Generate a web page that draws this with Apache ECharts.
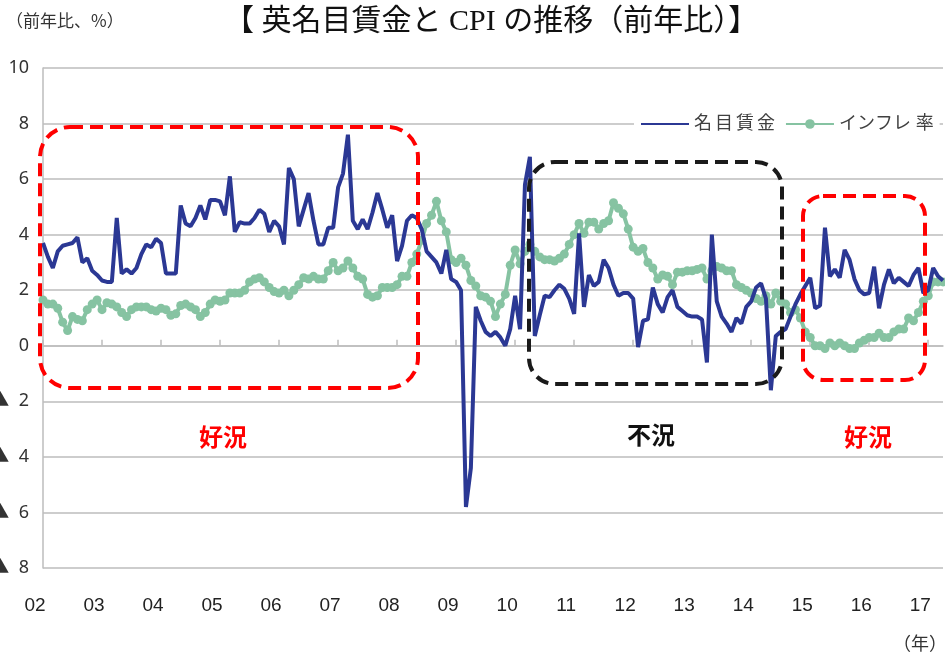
<!DOCTYPE html>
<html lang="ja">
<head>
    <meta charset="UTF-8">
    <title>英名目賃金とCPIの推移</title>
    <script src="https://cdn.jsdelivr.net/npm/echarts@6/dist/echarts.min.js"></script>
</head>
<body style="margin:0;background:#fff">
<div id="main" style="width:945px;height:662px;"></div>
<script type="text/javascript">
    // 年ラベル（2002年1月〜2017年4月、月次）
    var years = ['02', '03', '04', '05', '06', '07', '08', '09', '10', '11', '12', '13', '14', '15', '16', '17'];
    var lastYearMonths = 4;

    // 名目賃金（前年比、%）
    var wage = [
        3.7, 3.2, 2.8, 3.4, 3.6, 3.65, 3.7, 3.9, 3.0, 3.15, 2.7, 2.55,
        2.35, 2.3, 2.3, 4.6, 2.6, 2.75, 2.6, 2.8, 3.3, 3.65, 3.55, 3.85,
        3.7, 2.6, 2.6, 2.6, 5.05, 4.4, 4.3, 4.6, 5.05, 4.55, 5.25, 5.25,
        5.2, 4.7, 6.1, 4.1, 4.45, 4.4, 4.4, 4.6, 4.9, 4.75, 4.1, 4.5,
        4.3, 3.65, 6.4, 6.0, 4.3, 4.9, 5.5, 4.5, 3.65, 3.65, 4.25, 4.25,
        5.7, 6.2, 7.6, 4.5, 4.2, 4.55, 4.2, 4.8, 5.5, 4.9, 4.25, 4.7,
        3.05, 3.6, 4.5, 4.7, 4.6, 4.2, 3.4, 3.2, 3.0, 2.6, 3.45, 2.4,
        2.3, 2.0, -5.8, -4.4, 1.4, 0.9, 0.5, 0.35, 0.5, 0.3, 0.0, 0.6,
        1.8, 0.6, 5.8, 6.8, 0.35, 1.1, 1.8, 1.75, 2.0, 2.2, 2.05, 1.7,
        1.15, 4.05, 1.4, 2.55, 2.15, 2.3, 3.1, 2.8, 2.2, 1.8, 1.9, 1.9,
        1.7, -0.05, 0.9, 0.95, 2.1, 1.5, 1.2, 1.75, 2.0, 1.4, 1.25, 1.1,
        1.05, 1.05, 0.95, -0.6, 4.0, 1.6, 1.05, 0.8, 0.5, 1.0, 0.8, 1.4,
        1.6, 2.1, 2.25, 1.7, -1.6, 0.35, 0.5, 0.6, 1.05, 1.5, 1.85, 2.15,
        2.45, 1.35, 1.45, 4.25, 2.5, 2.75, 2.45, 3.45, 3.1, 2.4, 2.0, 1.85,
        1.9, 2.85, 1.35, 2.2, 2.75, 2.25, 2.45, 2.3, 2.15, 2.55, 2.8, 1.9,
        2.0, 2.8, 2.5, 2.35
    ];

    // インフレ率（CPI、前年比、%）
    var cpi = [
        1.65, 1.5, 1.5, 1.35, 0.85, 0.55, 1.05, 0.95, 0.9, 1.3, 1.5, 1.65,
        1.3, 1.55, 1.5, 1.4, 1.2, 1.05, 1.3, 1.4, 1.4, 1.4, 1.3, 1.25,
        1.35, 1.3, 1.1, 1.15, 1.45, 1.5, 1.4, 1.3, 1.05, 1.2, 1.5, 1.65,
        1.6, 1.65, 1.9, 1.9, 1.9, 2.0, 2.3, 2.4, 2.45, 2.3, 2.1, 1.95,
        1.9, 2.0, 1.8, 2.0, 2.2, 2.45, 2.4, 2.5, 2.4, 2.4, 2.7, 3.0,
        2.7, 2.8, 3.05, 2.8, 2.5, 2.4, 1.85, 1.75, 1.8, 2.1, 2.1, 2.1,
        2.2, 2.5, 2.5, 3.0, 3.3, 3.8, 4.4, 4.7, 5.2, 4.5, 4.1, 3.1,
        3.0, 3.15, 2.9, 2.35, 2.15, 1.8, 1.75, 1.6, 1.05, 1.5, 1.85, 2.9,
        3.45, 2.95, 3.4, 3.65, 3.4, 3.2, 3.1, 3.1, 3.05, 3.15, 3.3, 3.65,
        4.0, 4.4, 4.05, 4.45, 4.45, 4.2, 4.4, 4.5, 5.15, 4.95, 4.75, 4.2,
        3.55, 3.4, 3.5, 3.0, 2.8, 2.4, 2.55, 2.5, 2.2, 2.65, 2.65, 2.7,
        2.7, 2.75, 2.8, 2.4, 2.7, 2.85, 2.8, 2.7, 2.7, 2.2, 2.1, 2.0,
        1.9, 1.7, 1.6, 1.8, 1.5, 1.9, 1.6, 1.5, 1.2, 1.3, 1.0, 0.5,
        0.3, 0.0, 0.0, -0.1, 0.1, 0.0, 0.1, 0.0, -0.1, -0.1, 0.1, 0.2,
        0.3, 0.3, 0.45, 0.3, 0.3, 0.5, 0.6, 0.6, 1.0, 0.9, 1.2, 1.6,
        1.8, 2.3, 2.3, 2.3
    ];

    // 月次カテゴリ（年の先頭月だけ年ラベルを出す）
    var months = [];
    for (var y = 0; y < years.length; y++) {
        var n = (y === years.length - 1) ? lastYearMonths : 12;
        for (var m = 1; m <= n; m++) {
            months.push(years[y] + '/' + m);
        }
    }

    var myChart = echarts.init(document.getElementById('main'));

    var labelFont = '"Noto Sans", "Noto Sans CJK JP", sans-serif';
    var gridGray = '#bdbdbd';

    // 囲み枠（点線の角丸四角）
    function box(x, y, w, h, r, color) {
        return {
            type: 'rect',
            shape: {x: x, y: y, width: w, height: h, r: r},
            style: {fill: 'none', stroke: color, lineWidth: 4, lineDash: [13, 7]},
            z: 100
        };
    }

    function note(x, y, text, color) {
        return {
            type: 'text',
            x: x, y: y,
            style: {
                text: text, fill: color, font: 'bold 24px "Noto Sans CJK JP", sans-serif',
                textAlign: 'center', textVerticalAlign: 'middle'
            },
            z: 100
        };
    }

    option = {
        backgroundColor: '#fff',
        animation: false,
        title: {
            text: '【 英名目賃金と CPI の推移（前年比）】',
            left: 219,
            top: 2,
            textStyle: {
                fontFamily: '"Liberation Serif", "Noto Sans CJK JP", serif',
                fontSize: 30,
                fontWeight: 'normal',
                color: '#111'
            }
        },
        legend: {
            data: [
                {name: '名目賃金', itemStyle: {opacity: 0}},
                {name: 'インフレ 率'}
            ],
            left: 634,
            top: 111,
            backgroundColor: '#fff',
            padding: [4, 6, 4, 6],
            itemWidth: 48,
            itemHeight: 12,
            itemGap: 10,
            formatter: function (name) {
                return name === '名目賃金' ? name.split('').join('\u2009') : name;
            },
            textStyle: {fontSize: 18, color: '#404040', fontFamily: labelFont}
        },
        grid: {left: 43, right: 2, top: 68, bottom: 94, containLabel: false, outerBoundsMode: 'none'},
        xAxis: [
            {
                type: 'category',
                data: months,
                boundaryGap: false,
                axisLine: {onZero: false, show: false},
                axisTick: {show: false},
                axisLabel: {
                    interval: 11,
                    margin: 28,
                    padding: [0, 16, 0, 0],
                    fontSize: 19,
                    color: '#222',
                    fontFamily: '"Liberation Sans Narrow", "Liberation Sans", sans-serif',
                    formatter: function (v) { return v.split('/')[0]; }
                }
            },
            {
                type: 'category',
                data: months,
                boundaryGap: false,
                position: 'bottom',
                axisLine: {onZero: true, lineStyle: {color: gridGray, width: 1.5}},
                axisTick: {interval: 11, inside: true, length: 6, lineStyle: {color: gridGray, width: 1.5}},
                axisLabel: {show: false}
            }
        ],
        yAxis: {
            type: 'value',
            min: -8,
            max: 10,
            interval: 2,
            axisLine: {show: true, lineStyle: {color: gridGray, width: 1.5}},
            axisTick: {show: false},
            splitLine: {lineStyle: {color: gridGray, width: 1.5}},
            axisLabel: {
                margin: 14,
                fontSize: 18,
                color: '#333',
                fontFamily: labelFont,
                formatter: function (v) { return v < 0 ? '▲  ' + Math.abs(v) : String(v); }
            }
        },
        series: [
            {
                name: '名目賃金',
                type: 'line',
                data: wage,
                symbol: 'none',
                z: 3,
                lineStyle: {color: '#2B3894', width: 4},
                itemStyle: {color: '#2B3894'}
            },
            {
                name: 'インフレ 率',
                type: 'line',
                data: cpi,
                symbol: 'circle',
                symbolSize: 9,
                showAllSymbol: true,
                z: 2,
                lineStyle: {color: '#86C3A2', width: 4},
                itemStyle: {color: '#86C3A2'}
            }
        ],
        graphic: [
            {
                type: 'text', left: 6, top: 12,
                style: {text: '（前年比、%）', fill: '#333', font: '17px "Noto Sans CJK JP", sans-serif'}
            },
            {
                type: 'text', left: 893, top: 634,
                style: {text: '（年）', fill: '#333', font: '18px "Noto Sans CJK JP", sans-serif'}
            },
            box(40, 127, 378, 261, 30, '#FF0000'),
            box(529, 162, 253, 222, 26, '#1a1a1a'),
            box(803, 196, 122, 184, 20, '#FF0000'),
            note(223, 437, '好況', '#FF0000'),
            note(651, 435, '不況', '#111'),
            note(868, 437, '好況', '#FF0000')
        ]
    };

    myChart.setOption(option);
</script>
</body>
</html>
